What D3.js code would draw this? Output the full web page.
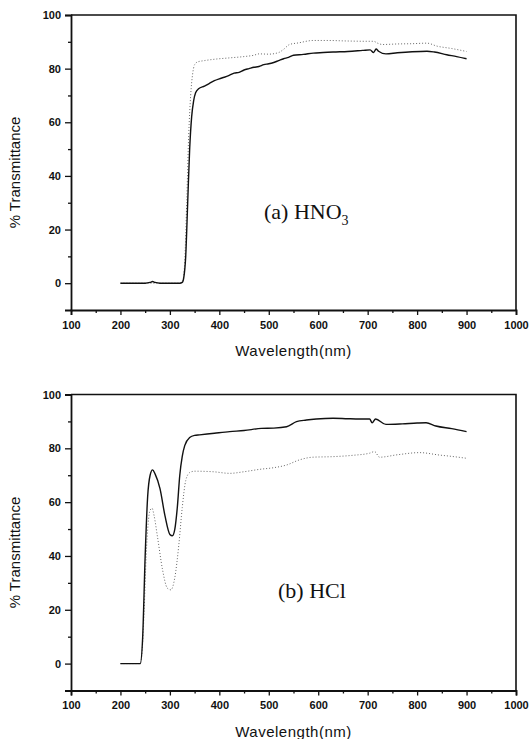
<!DOCTYPE html>
<html>
<head>
<meta charset="utf-8">
<script src="https://cdn.jsdelivr.net/npm/d3@7"></script>
<style>
  body { margin: 0; background: #fff; }
  svg { display: block; }
</style>
</head>
<body>
<svg id="chart" width="530" height="739"></svg>
<script>
// ---- data (wavelength nm, % transmittance) ----

// (a) HNO3
const hno3SolidWl = [200, 250, 260, 265, 270, 280, 320, 325, 328, 332, 336, 340, 344, 348, 352, 358, 370, 380, 390, 400, 410, 420, 430, 440, 450, 460, 470, 480, 490, 500, 510, 520, 530, 540, 550, 570, 590, 610, 630, 660, 690, 705, 712, 717, 722, 737, 760, 790, 820, 835, 860, 880, 900]
const hno3SolidT  = [0, 0, 0.3, 0.6, 0.3, 0, 0, 0.3, 2, 10, 30, 50, 62, 68, 71, 72.5, 73.5, 74.5, 75.5, 76.2, 76.8, 77.5, 78.3, 78.6, 79.5, 80, 80.5, 80.8, 81.5, 81.8, 82.3, 83, 83.7, 84.2, 85, 85.3, 85.8, 86, 86.2, 86.4, 86.8, 87, 86, 87.3, 86.5, 85.5, 85.9, 86.3, 86.5, 86.2, 85.2, 84.5, 83.7]

const hno3DotWl = [200, 320, 326, 330, 334, 338, 342, 346, 350, 356, 370, 390, 420, 450, 470, 480, 500, 520, 530, 542, 560, 590, 620, 660, 700, 712, 720, 730, 760, 790, 820, 840, 870, 900]
const hno3DotT  = [0, 0, 1, 8, 30, 55, 70, 78, 81.5, 82.5, 83, 83.5, 84, 84.5, 85, 85.5, 85.4, 86, 87.2, 89, 89.6, 90.5, 90.5, 90.3, 90.2, 90.2, 89.5, 89, 89.2, 89.3, 89.5, 88.4, 87.5, 86.4]

// (b) HCl
const hclSolidWl = [200, 240, 245, 250, 255, 260, 265, 270, 280, 290, 300, 305, 310, 315, 320, 325, 330, 340, 350, 360, 390, 421, 450, 485, 510, 536, 556, 576, 596, 630, 660, 684, 704, 709, 716, 737, 770, 800, 818, 838, 870, 900]
const hclSolidT  = [0, 0, 10, 40, 62, 70, 72, 70.5, 65, 55, 48, 47.5, 50, 58, 70, 77, 81, 84, 84.8, 85, 85.6, 86.2, 86.6, 87.4, 87.5, 88, 89.9, 90.5, 90.9, 91.2, 91, 90.9, 90.9, 89.5, 90.9, 88.9, 89.1, 89.4, 89.5, 88.3, 87.3, 86.2]

const hclDotWl = [200, 240, 244, 248, 252, 256, 260, 264, 268, 275, 285, 295, 302, 310, 318, 325, 332, 340, 350, 387, 421, 450, 482, 510, 536, 562, 589, 629, 670, 704, 714, 724, 760, 805, 845, 870, 900]
const hclDotT  = [0, 0, 5, 20, 40, 52, 57, 57.7, 55, 47, 35, 28, 27.4, 32, 44, 58, 68, 71, 71.5, 71.3, 70.7, 71.3, 72.2, 72.8, 73.8, 75.7, 76.7, 76.9, 77.4, 78.2, 78.8, 76.7, 77.6, 78.4, 77.5, 77, 76.3]

const majorX = [100, 200, 300, 400, 500, 600, 700, 800, 900, 1000]
const minorX = [150, 250, 350, 450, 550, 650, 750, 850, 950]
const majorY = [0, 20, 40, 60, 80, 100]
const minorY = [10, 30, 50, 70, 90]

const panels = [
  { top: 15, bottom: 310, label: "(a) HNO", sub: "3", lx: 264, ly: 219,
    solid: [hno3SolidWl, hno3SolidT], dot: [hno3DotWl, hno3DotT] },
  { top: 394.5, bottom: 690.5, label: "(b) HCl", sub: "", lx: 278, ly: 598,
    solid: [hclSolidWl, hclSolidT], dot: [hclDotWl, hclDotT] }
]

const svg = d3.select("#chart")
const left = 71, right = 516

const x = d3.scaleLinear().domain([100, 1000]).range([left, right])

panels.forEach(p => {
  const y = d3.scaleLinear().domain([-10, 100]).range([p.bottom, p.top])
  const g = svg.append("g")

  // frame (top + right)
  g.append("path")
    .attr("d", `M${left},${p.top}H${right}V${p.bottom}`)
    .attr("fill", "none").attr("stroke", "#111").attr("stroke-width", 1.6)

  // y axis
  g.append("g").attr("transform", `translate(${left},0)`)
    .call(d3.axisLeft(y).tickValues(majorY).tickSize(6).tickPadding(4).tickFormat(d3.format("d")))
  g.append("g").attr("transform", `translate(${left},0)`)
    .call(d3.axisLeft(y).tickValues(minorY).tickSize(3).tickFormat(""))
    .select(".domain").remove()

  // x axis
  g.append("g").attr("transform", `translate(0,${p.bottom})`)
    .call(d3.axisBottom(x).tickValues(majorX).tickSize(5).tickPadding(6).tickFormat(d3.format("d")))
  g.append("g").attr("transform", `translate(0,${p.bottom})`)
    .call(d3.axisBottom(x).tickValues(minorX).tickSize(3).tickFormat(""))
    .select(".domain").remove()

  g.selectAll(".domain").attr("stroke", "#111").attr("stroke-width", 1.8)
  g.selectAll(".tick line").attr("stroke", "#111").attr("stroke-width", 1.3)
  g.selectAll(".tick text")
    .attr("fill", "#111")
    .style("font-family", "'Liberation Sans', Arial, sans-serif")
    .style("font-size", "11px")
    .style("font-weight", "bold")

  // axis titles
  g.append("text")
    .attr("transform", `translate(20,${(p.top + p.bottom) / 2 + 10}) rotate(-90)`)
    .attr("text-anchor", "middle")
    .style("font-family", "'Liberation Sans', Arial, sans-serif")
    .style("font-size", "15px")
    .attr("fill", "#111")
    .text("% Transmittance")

  g.append("text")
    .attr("x", (left + right) / 2).attr("y", p.bottom + 46)
    .attr("text-anchor", "middle")
    .style("font-family", "'Liberation Sans', Arial, sans-serif")
    .style("font-size", "15px")
    .style("letter-spacing", "0.5px")
    .attr("fill", "#111")
    .text("Wavelength(nm)")

  // curves
  const line = d3.line()
    .x(d => x(d[0])).y(d => y(d[1]))
    .curve(d3.curveMonotoneX)

  g.append("path")
    .datum(d3.zip(p.dot[0], p.dot[1]))
    .attr("d", line)
    .attr("fill", "none").attr("stroke", "#666")
    .attr("stroke-width", 1).attr("stroke-dasharray", "1,2")

  g.append("path")
    .datum(d3.zip(p.solid[0], p.solid[1]))
    .attr("d", line)
    .attr("fill", "none").attr("stroke", "#111")
    .attr("stroke-width", 1.4)

  // panel label
  const t = g.append("text")
    .attr("x", p.lx).attr("y", p.ly)
    .style("font-family", "'Liberation Serif', 'Times New Roman', serif")
    .style("font-size", "22px")
    .attr("fill", "#111")
    .text(p.label)
  if (p.sub) {
    t.append("tspan")
      .attr("dy", 6)
      .style("font-size", "14px")
      .text(p.sub)
  }
})
</script>
</body>
</html>
